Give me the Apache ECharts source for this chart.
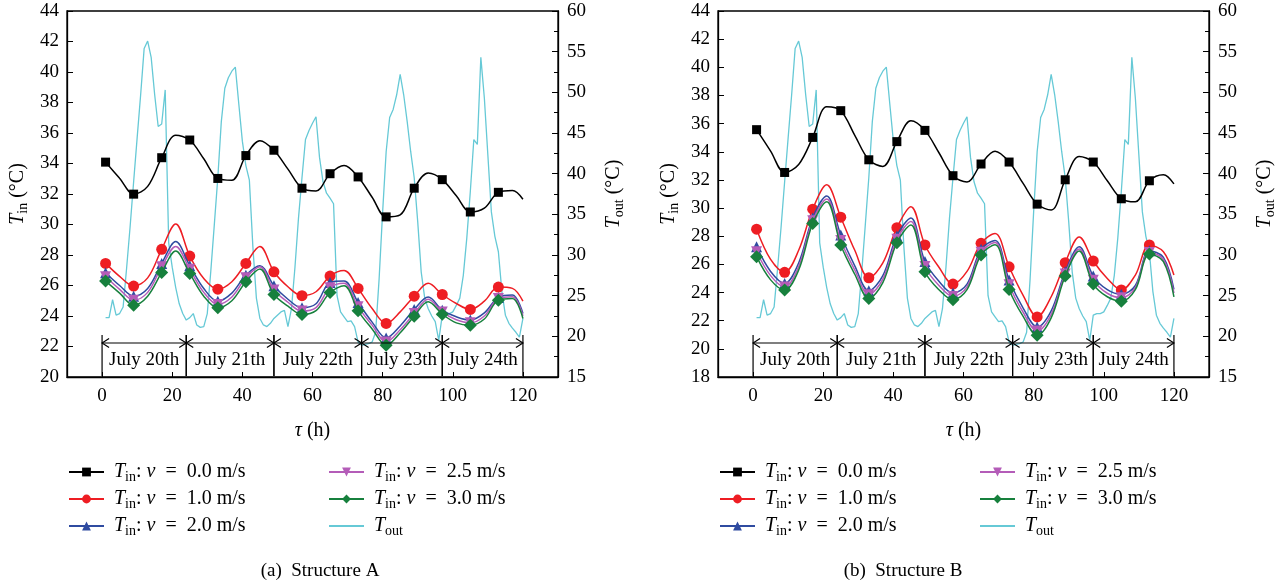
<!DOCTYPE html>
<html><head><meta charset="utf-8">
<script src="https://cdn.jsdelivr.net/npm/echarts@6/dist/echarts.min.js"></script>
<style>html,body{margin:0;padding:0;background:#fff}#c{width:1286px;height:586px}</style>
</head><body><div id="c"></div>
<script>
// ---------- DATA ----------
const tauIn = [1,5,9,13,17,21,25,29,33,37,41,45,49,53,57,61,65,69,73,77,81,85,89,93,97,101,105,109,113,117,120];
// Structure A, indoor temperature (left axis)
const A_v00 = [34.09,33.03,31.99,32.5,34.38,35.85,35.54,34.31,33.02,32.9,34.52,35.5,34.87,33.63,32.38,32.2,33.33,33.87,33.12,31.79,30.5,30.63,32.38,33.37,32.94,31.88,30.82,31.07,32.11,32.23,31.66];
const A_v10 = [27.45,26.6,25.96,26.5,28.37,30.04,27.93,26.46,25.76,26.25,27.45,28.55,26.9,25.92,25.33,25.59,26.62,26.99,25.81,24.49,23.51,24.27,25.3,26.14,25.41,24.82,24.43,24.97,25.9,25.81,24.97];
const A_v20 = [26.84,26.0,25.3,25.8,27.45,28.88,27.3,25.8,24.97,25.5,26.68,27.3,25.98,25.1,24.54,24.8,26.2,26.29,24.89,23.6,22.56,23.35,24.43,25.24,24.38,23.95,23.73,24.2,25.22,25.37,24.16];
const A_v25 = [26.57,25.75,25.04,25.55,27.23,28.55,27.06,25.55,24.76,25.25,26.51,27.23,25.7,24.9,24.32,24.55,25.85,26.14,24.6,23.4,22.3,23.1,24.16,25.1,24.27,23.75,23.55,24.0,25.15,25.26,24.01];
const A_v30 = [26.29,25.5,24.71,25.3,26.86,28.26,26.79,25.3,24.54,25.0,26.25,27.08,25.41,24.65,24.1,24.35,25.54,25.98,24.34,23.15,22.08,22.9,23.99,24.93,24.12,23.55,23.4,23.8,25.04,25.15,23.84];
// Structure B, indoor temperature (left axis)
const B_v00 = [35.57,34.05,32.53,33.1,35.02,37.2,36.92,35.17,33.43,32.96,34.72,36.2,35.52,33.93,32.3,31.85,33.13,34.03,33.27,31.75,30.28,29.87,32.01,33.66,33.27,31.94,30.66,30.45,31.94,32.37,31.72];
const B_v10 = [28.5,26.35,25.44,27.0,29.92,31.65,29.35,27.0,25.05,26.1,28.61,30.1,27.38,25.8,24.6,25.5,27.5,28.2,25.83,23.8,22.27,23.7,26.12,27.95,26.24,25.0,24.18,25.24,27.38,26.9,25.24];
const B_v20 = [27.26,25.5,24.65,26.1,29.3,30.85,28.09,25.9,24.13,25.2,28.02,29.3,26.2,24.8,23.96,24.6,27.07,27.7,24.89,22.9,21.56,22.7,25.48,27.25,25.17,24.2,23.87,24.5,26.97,26.5,24.22];
const B_v25 = [26.9,25.2,24.4,25.85,29.1,30.65,27.7,25.6,23.85,24.95,27.78,29.05,25.85,24.5,23.72,24.4,26.87,27.55,24.55,22.6,21.27,22.45,25.32,27.1,24.88,23.95,23.63,24.35,26.85,26.35,23.96];
const B_v30 = [26.55,24.9,24.18,25.6,28.9,30.45,27.38,25.3,23.58,24.7,27.54,28.8,25.48,24.2,23.48,24.2,26.67,27.4,24.22,22.3,20.97,22.2,25.17,26.95,24.6,23.7,23.39,24.2,26.74,26.2,23.7];
// Outdoor temperature, hourly tau = 1..120 (right axis)
const Tout = [22.3,22.3,24.5,22.6,22.8,23.6,28.4,33.5,39.0,44.4,49.7,55.4,56.3,54.3,49.7,45.8,46.1,50.3,31.5,28.5,
26.0,24.0,22.8,22.0,22.3,22.8,21.4,21.1,21.2,22.8,28.0,33.7,39.5,46.4,50.5,51.8,52.6,53.1,48.5,44.0,
41.0,39.2,31.0,24.7,22.2,21.4,21.2,21.6,22.2,22.6,23.0,23.2,21.2,23.4,28.5,34.5,39.5,44.2,45.3,46.2,
47.0,42.0,39.0,37.6,37.0,36.3,25.0,23.0,22.4,21.8,21.9,21.2,19.3,18.9,19.0,19.1,19.3,20.5,27.1,35.3,
42.7,46.9,47.9,49.7,52.2,49.7,46.4,42.7,39.5,34.1,27.9,24.7,23.4,22.5,21.8,19.5,22.6,22.8,22.8,23.0,
23.8,24.7,27.5,32.1,37.8,44.2,43.6,54.3,49.3,42.3,35.3,32.3,30.4,25.5,22.6,21.6,21.0,20.5,19.9,22.2];
const tauOut = Tout.map((_, i) => i + 1);
const seriesNames = ['Tin: v = 0.0 m/s','Tin: v = 1.0 m/s','Tin: v = 2.0 m/s','Tin: v = 2.5 m/s','Tin: v = 3.0 m/s','Tout'];
const xTickValues = [0,20,40,60,80,100,120];
const dayEdges = [0,24,49,74,97,120];
const dayLabels = ['July 20th','July 21th','July 22th','July 23th','July 24th'];
const captions = ['(a)  Structure A','(b)  Structure B'];

// ---------- STYLE ----------
const F = '"Liberation Serif","DejaVu Serif",serif';
const markerStyles = [
  {color:'#000000', symbol:'rect', size:9},
  {color:'#ee1d23', symbol:'circle', size:11},
  {color:'#2f4ba0', symbol:'triangle', size:11},
  {color:'#b45cb8', symbol:'path://M0,0L10,0L5,9Z', size:11},
  {color:'#17803d', symbol:'diamond', size:13}
];
const toutColor = '#66c9d6';
const rich = {
  it:{fontStyle:'italic', fontFamily:F, fontSize:20, color:'#000', lineHeight:24},
  it0:{fontStyle:'italic', fontFamily:F, fontSize:20, color:'#000', lineHeight:24, padding:[0,0,0,5]},
  sub:{fontFamily:F, fontSize:14, color:'#000', lineHeight:14, verticalAlign:'bottom'}
};
const legendLabel = {
  'Tin: v = 0.0 m/s':'{it0|T}{sub|in}: {it|v}  =  0.0 m/s',
  'Tin: v = 1.0 m/s':'{it0|T}{sub|in}: {it|v}  =  1.0 m/s',
  'Tin: v = 2.0 m/s':'{it0|T}{sub|in}: {it|v}  =  2.0 m/s',
  'Tin: v = 2.5 m/s':'{it0|T}{sub|in}: {it|v}  =  2.5 m/s',
  'Tin: v = 3.0 m/s':'{it0|T}{sub|in}: {it|v}  =  3.0 m/s',
  'Tout':'{it0|T}{sub|out}'
};

const panels = [
  {left:67, yMin:20, ins:[A_v00,A_v10,A_v20,A_v25,A_v30], legendX:[68,328], caption:320},
  {left:718, yMin:18, ins:[B_v00,B_v10,B_v20,B_v25,B_v30], legendX:[719,979], caption:903}
];

const grids=[], xAxes=[], yAxes=[], series=[], legends=[], graphics=[];
const axisText = {fontFamily:F, fontSize:19, color:'#000'};
const nameStyle = {fontFamily:F, fontSize:20, color:'#000', rich:rich, lineHeight:24};

panels.forEach((p, g) => {
  grids.push({left:p.left, top:11, width:491, height:366, show:true, borderColor:'#000', borderWidth:1.3, backgroundColor:'transparent'});
  xAxes.push({type:'value', gridIndex:g, min:-10, max:130, interval:10,
    name:'{it|τ} (h)', nameLocation:'middle', nameGap:42, nameTextStyle:nameStyle,
    axisLine:{onZero:false, lineStyle:{color:'#000', width:1.3}},
    axisTick:{inside:true, length:5, customValues:xTickValues, lineStyle:{color:'#000', width:1}},
    axisLabel:Object.assign({customValues:xTickValues, margin:10}, axisText),
    splitLine:{show:false}});
  yAxes.push({type:'value', gridIndex:g, position:'left', min:p.yMin, max:44, interval:2,
    name:'{it|T}{sub|in} (°C)', nameLocation:'middle', nameRotate:90, nameGap:37, nameTextStyle:nameStyle,
    axisLine:{show:true, onZero:false, lineStyle:{color:'#000', width:1.3}},
    axisTick:{inside:true, length:6, lineStyle:{color:'#000'}},
    axisLabel:Object.assign({margin:8}, axisText), splitLine:{show:false}});
  yAxes.push({type:'value', gridIndex:g, position:'right', min:15, max:60, interval:5,
    name:'{it|T}{sub|out} (°C)', nameLocation:'middle', nameRotate:90, nameGap:44, nameTextStyle:nameStyle,
    axisLine:{show:true, onZero:false, lineStyle:{color:'#000', width:1.3}},
    axisTick:{inside:true, length:6, lineStyle:{color:'#000'}},
    minorTick:{show:true, splitNumber:2, length:4, lineStyle:{color:'#000'}},
    axisLabel:Object.assign({margin:9}, axisText), splitLine:{show:false}});

  series.push({name:'Tout', type:'line', xAxisIndex:g, yAxisIndex:2*g+1, symbol:'none', z:1,
    color:toutColor, lineStyle:{color:toutColor, width:1.3},
    data:tauOut.map((t,i)=>[t, Tout[i]])});
  p.ins.forEach((arr, k) => {
    const m = markerStyles[k];
    series.push({name:seriesNames[k], type:'line', xAxisIndex:g, yAxisIndex:2*g, z:2+k,
      smooth:0.35, symbol:m.symbol, symbolSize:(v)=> (v[0] % 8 === 1 ? m.size : 0), showSymbol:true,
      color:m.color, itemStyle:{color:m.color}, lineStyle:{color:m.color, width:1.5},
      data:tauIn.map((t,i)=>[t, arr[i]])});
  });
  series.push({type:'custom', xAxisIndex:g, yAxisIndex:2*g, silent:true, clip:false, z:10,
    encode:{x:[0,1], y:2},
    data:dayLabels.map((l,i)=>[dayEdges[i], dayEdges[i+1], i]),
    renderItem:(params, api) => {
      const x0 = api.coord([api.value(0), p.yMin])[0];
      const x1 = api.coord([api.value(1), p.yMin])[0];
      const cs = params.coordSys;
      const bottom = cs.y + cs.height;
      const ya = bottom - 34, yt = bottom - 42, yb = bottom - 1;
      const st = {stroke:'#000', lineWidth:1.2, fill:null};
      return {type:'group', children:[
        {type:'line', shape:{x1:x0,y1:yt,x2:x0,y2:yb}, style:st},
        {type:'line', shape:{x1:x1,y1:yt,x2:x1,y2:yb}, style:st},
        {type:'line', shape:{x1:x0,y1:ya,x2:x1,y2:ya}, style:st},
        {type:'polyline', shape:{points:[[x0+7,ya-4.5],[x0,ya],[x0+7,ya+4.5]]}, style:st},
        {type:'polyline', shape:{points:[[x1-7,ya-4.5],[x1,ya],[x1-7,ya+4.5]]}, style:st},
        {type:'text', style:{text:dayLabels[api.value(2)], x:(x0+x1)/2, y:bottom-17, align:'center', verticalAlign:'middle', fontFamily:F, fontSize:19, fill:'#000'}}
      ]};
    }});

  [[0,1,2],[3,4,5]].forEach((idx, c) => {
    legends.push({orient:'vertical', left:p.legendX[c], top:460, padding:0, itemGap:3,
      itemWidth:35, itemHeight:11, selectedMode:false,
      data:idx.map(i => seriesNames[i] === 'Tout' ? {name:'Tout', itemStyle:{opacity:0}} : seriesNames[i]),
      formatter:(n)=>legendLabel[n],
      textStyle:{fontFamily:F, fontSize:20, color:'#000', lineHeight:24, rich:rich}});
  });
  graphics.push({type:'text', x:p.caption, y:571, style:{text:captions[g], fill:'#000', font:'19px "Liberation Serif"', textAlign:'center', textVerticalAlign:'middle', align:'center', verticalAlign:'middle'}});
});

const chart = echarts.init(document.getElementById('c'), null, {renderer:'canvas'});
chart.setOption({
  animation:false, backgroundColor:'#fff',
  grid:grids, xAxis:xAxes, yAxis:yAxes, series:series, legend:legends, graphic:graphics
});
</script></body></html>
